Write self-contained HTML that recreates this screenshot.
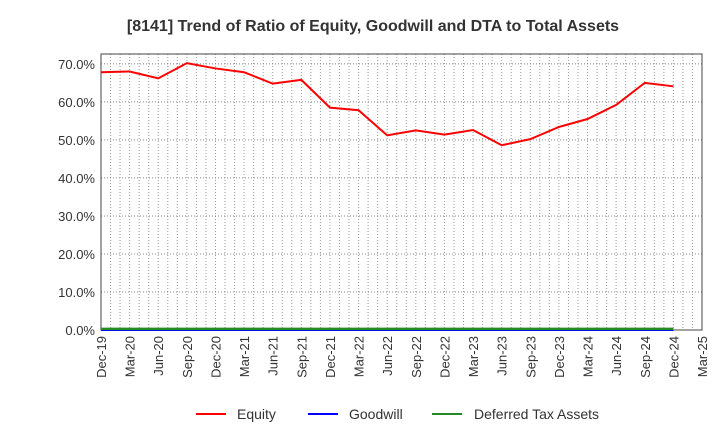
<!DOCTYPE html>
<html><head><meta charset="utf-8"><style>
body{margin:0;background:#fff;}
svg text{font-family:"Liberation Sans",sans-serif;}
</style></head><body>
<svg id="chart" width="720" height="440" xmlns="http://www.w3.org/2000/svg">
<text x="373" y="31" text-anchor="middle" font-size="16" font-weight="bold" fill="#333">[8141]  Trend of Ratio of Equity, Goodwill and DTA to Total Assets</text>
<g id="grid"></g><g id="axes"></g><g id="series"></g>
<g>
<line x1="196" y1="414" x2="226" y2="414" stroke="#ff0000" stroke-width="2"/>
<text x="237" y="419" font-size="14" fill="#333">Equity</text>
<line x1="308" y1="414" x2="338" y2="414" stroke="#0000ff" stroke-width="2"/>
<text x="349" y="419" font-size="14" fill="#333">Goodwill</text>
<line x1="432" y1="414" x2="462" y2="414" stroke="#228b22" stroke-width="2"/>
<text x="474" y="419" font-size="14" fill="#333">Deferred Tax Assets</text>
</g>
</svg>
<script>
const categories=["Dec-19","Mar-20","Jun-20","Sep-20","Dec-20","Mar-21","Jun-21","Sep-21","Dec-21","Mar-22","Jun-22","Sep-22","Dec-22","Mar-23","Jun-23","Sep-23","Dec-23","Mar-24","Jun-24","Sep-24","Dec-24","Mar-25"];
const equity=[67.8,68.0,66.2,70.2,68.8,67.8,64.8,65.8,58.5,57.8,51.2,52.5,51.4,52.6,48.6,50.2,53.4,55.5,59.2,65.0,64.1];
const goodwill=[0,0,0,0,0,0,0,0,0,0,0,0,0,0,0,0,0,0,0,0,0];
const dta=[0.3,0.3,0.3,0.3,0.3,0.3,0.3,0.3,0.3,0.3,0.3,0.3,0.3,0.3,0.3,0.3,0.3,0.3,0.3,0.3,0.3];
const yTicks=[0,10,20,30,40,50,60,70];
const L=101,R=702,T=54,B=330,YMAX=72.6;
const NS="http://www.w3.org/2000/svg";
const x=i=>L+(R-L)*i/(categories.length-1);
const y=v=>B-(B-T)*v/YMAX;
function mk(tag,attrs,parent){const e=document.createElementNS(NS,tag);for(const k in attrs)e.setAttribute(k,attrs[k]);parent.appendChild(e);return e;}
const grid=document.getElementById('grid'),axes=document.getElementById('axes'),series=document.getElementById('series');
const months=(categories.length-1)*3;
for(let m=1;m<months;m++){const xx=L+(R-L)*m/months;
const g=mk('line',{x1:xx,y1:T,x2:xx,y2:B,stroke:'#999','stroke-width':1,'stroke-dasharray':'1,2'},grid);

}
yTicks.forEach(v=>{if(v>0){const g=mk('line',{x1:L,y1:y(v),x2:R,y2:y(v),stroke:'#888','stroke-width':1,'stroke-dasharray':'1,2'},grid);

}
const t=mk('text',{x:L-6,y:y(v)+5,'text-anchor':'end','font-size':13,fill:'#333'},axes);t.textContent=v.toFixed(1)+'%';

});
const frame=mk('rect',{x:L,y:T,width:R-L,height:B-T,fill:'none',stroke:'#444','stroke-width':1},axes);


categories.forEach((c,i)=>{const t=mk('text',{x:0,y:0,'text-anchor':'end','font-size':13,fill:'#333',transform:`translate(${x(i)+5},${B+6}) rotate(-90)`},axes);t.textContent=c;

});
function line(arr,color,name,w){const p=mk('polyline',{points:arr.map((v,i)=>x(i)+','+y(v)).join(' '),fill:'none',stroke:color,'stroke-width':w},series);

}
line(goodwill,'#0000ff','goodwill-line',2);
line(dta,'#228b22','dta-line',2.5);
line(equity,'#ff0000','equity-line',2);
</script>
</body></html>
